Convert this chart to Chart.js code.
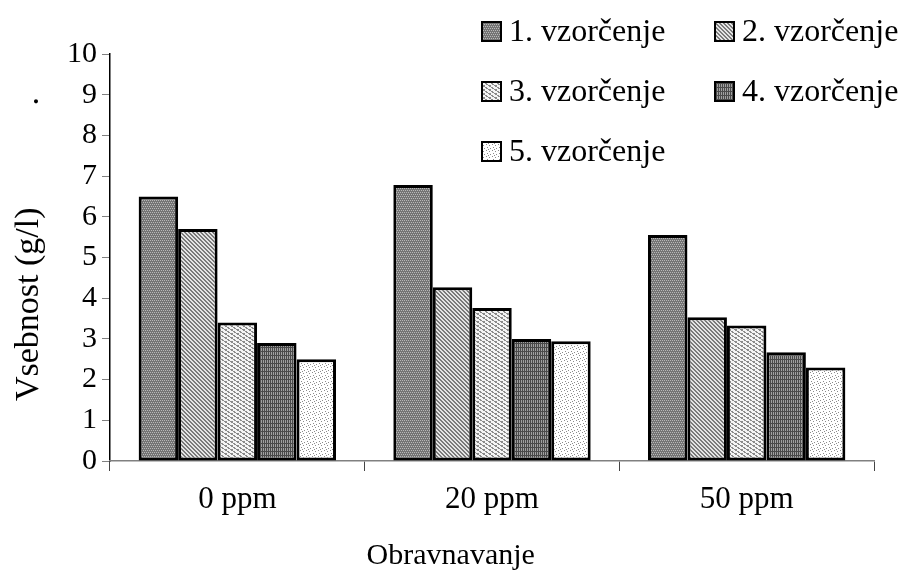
<!DOCTYPE html>
<html>
<head>
<meta charset="utf-8">
<script src="https://cdn.jsdelivr.net/npm/chart.js@4"></script>
<style>
  html, body { margin: 0; padding: 0; background: #fff; }
  #wrap { width: 903px; height: 574px; }
</style>
</head>
<body>
<div id="wrap"><canvas id="vsebnostChart"></canvas></div>
<script>
const categories = ["0 ppm", "20 ppm", "50 ppm"];
const seriesLabels = ["1. vzorčenje", "2. vzorčenje", "3. vzorčenje", "4. vzorčenje", "5. vzorčenje"];
const sampling1 = [6.5, 6.78, 5.55];
const sampling2 = [5.7, 4.27, 3.53];
const sampling3 = [3.4, 3.76, 3.33];
const sampling4 = [2.9, 3.0, 2.67];
const sampling5 = [2.5, 2.94, 2.3];

// small pixel tiles used as fills
function makePattern(w, h, bg, fg, pixels) {
    const c = document.createElement("canvas");
    c.width = w;
    c.height = h;
    const g = c.getContext("2d");
    g.fillStyle = bg;
    g.fillRect(0, 0, w, h);
    g.fillStyle = fg;
    pixels.forEach(function (p) {
        g.fillRect(p[0], p[1], 1, 1);
    });
    return g.createPattern(c, "repeat");
}

const fills = [
    makePattern(4, 4, "#747474", "#b8b8b8", [[0, 0], [2, 0], [1, 2], [3, 2]]),
    makePattern(4, 4, "#e4e4e4", "#7a7a7a", [[0, 0], [1, 0], [1, 1], [2, 1], [2, 2], [3, 2], [3, 3], [0, 3]]),
    makePattern(6, 4, "#f4f4f4", "#8a8a8a", [[0, 0], [1, 0], [2, 1], [3, 1], [4, 1], [3, 2], [4, 2], [5, 3], [0, 3]]),
    makePattern(4, 4, "#4a4a4a", "#a0a0a0", [[1, 0], [3, 0], [1, 1], [3, 1], [1, 2], [3, 2]]),
    makePattern(6, 6, "#ffffff", "#8c8c8c", [[0, 0], [3, 1], [1, 3], [4, 4], [2, 5]])
];
const seriesValues = [sampling1, sampling2, sampling3, sampling4, sampling5];

const legendPlugin = {
    id: "gridLegend",
    afterDraw: function (chart) {
        const ctx = chart.ctx;
        ctx.save();
        ctx.font = "32px 'Liberation Serif'";
        ctx.textBaseline = "middle";
        chart.data.datasets.forEach(function (ds, i) {
            const col = i % 2;
            const row = Math.floor(i / 2);
            const bx = col === 0 ? 482 : 715;
            const cy = 31 + row * 60;
            ctx.fillStyle = ds.backgroundColor;
            ctx.fillRect(bx, cy - 9, 19, 19);
            ctx.lineWidth = 2;
            ctx.strokeStyle = "#000";
            ctx.strokeRect(bx, cy - 9, 19, 19);
            ctx.fillStyle = "#000";
            ctx.fillText(ds.label, bx + 27, cy + 2);
        });
        ctx.restore();
    }
};

const ctx = document.getElementById("vsebnostChart");
new Chart(ctx, {
    type: "bar",
    data: {
        labels: categories,
        datasets: seriesLabels.map(function (name, i) {
            return {
                label: name,
                data: seriesValues[i],
                backgroundColor: fills[i],
                borderColor: "#000",
                borderWidth: 3,
                borderSkipped: false,
                categoryPercentage: 0.775,
                barPercentage: 1.0,
            };
        }),
    },
    options: {
        responsive: true,
        maintainAspectRatio: false,
        animation: false,
        layout: {
            padding: { top: 54, right: 29, bottom: 0, left: 0 },
        },
        plugins: {
            legend: { display: false },
            title: { display: false },
            tooltip: { enabled: false },
        },
        scales: {
            y: {
                min: 0,
                max: 10,
                afterFit: function (scale) {
                    scale.width = 110;
                },
                ticks: {
                    stepSize: 1,
                    color: "#000",
                    padding: 5,
                    font: { family: "'Liberation Serif'", size: 30 },
                },
                grid: {
                    drawOnChartArea: false,
                    tickLength: 8,
                    color: "#808080",
                },
                border: { display: true, color: "#000", width: 1.5 },
                title: {
                    display: true,
                    text: "  Vsebnost (g/l)            .",
                    color: "#000",
                    padding: { top: 9, bottom: 0 },
                    font: { family: "'Liberation Serif'", size: 34 },
                },
            },
            x: {
                afterFit: function (scale) {
                    scale.height = 113;
                },
                ticks: {
                    color: "#000",
                    padding: 10,
                    font: { family: "'Liberation Serif'", size: 31 },
                },
                grid: {
                    drawOnChartArea: false,
                    tickLength: 10,
                    color: "#444",
                },
                border: { display: true, color: "#808080", width: 1.5 },
                title: {
                    display: true,
                    text: "Obravnavanje           ",
                    color: "#000",
                    padding: { top: 0, bottom: 0 },
                    font: { family: "'Liberation Serif'", size: 30 },
                },
            },
        },
    },
    plugins: [legendPlugin],
});
</script>
</body>
</html>
